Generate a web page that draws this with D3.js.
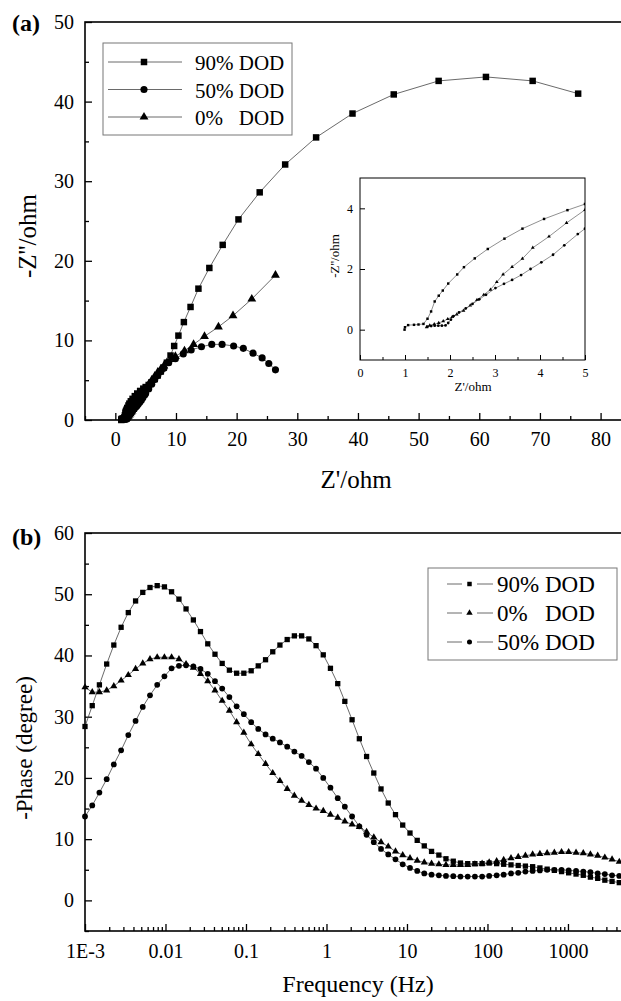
<!DOCTYPE html>
<html>
<head>
<meta charset="utf-8">
<script src="https://cdn.jsdelivr.net/npm/d3@7/dist/d3.min.js"></script>
<style>
  body { margin: 0; background: #fff; }
  svg { display: block; }
  text { font-family: "Liberation Serif", "DejaVu Serif", serif; fill: #000; }
</style>
</head>
<body>
<div id="chart"></div>
<script>
// ---- Nyquist data (a): Z' and -Z'' in ohm ----
const zRe90 = [0.99, 1.0, 1.07, 1.2, 1.3, 1.41, 1.5, 1.58, 1.66, 1.75, 1.84, 1.96, 2.16, 2.31, 2.55, 2.84, 3.21, 3.61, 4.09, 4.61,
    5.0, 5.5, 6.0, 6.5, 7.0, 7.5, 8.0, 8.5, 9.1, 9.7, 10.4, 11.3, 12.4, 13.7, 15.5, 17.7, 20.3, 23.8, 28.0, 33.1,
    39.1, 45.9, 53.3, 61.1, 68.8, 76.3];
const zIm90 = [0, 0.08, 0.15, 0.16, 0.17, 0.19, 0.36, 0.6, 0.93, 1.12, 1.29, 1.52, 1.82, 2.06, 2.35, 2.66, 3.0, 3.33, 3.65, 3.94,
    4.14, 4.4, 4.75, 5.15, 5.6, 6.1, 6.6, 7.2, 8.1, 9.3, 10.6, 12.3, 14.2, 16.5, 19.1, 22.0, 25.2, 28.6, 32.1, 35.5,
    38.5, 40.9, 42.6, 43.1, 42.6, 41.0];
const zRe50 = [1.5, 1.58, 1.66, 1.74, 1.82, 1.9, 1.96, 2.02, 2.08, 2.2, 2.35, 2.5, 2.65, 2.8, 3.01, 3.2, 3.38, 3.58, 3.79, 4.03,
    4.29, 4.54, 4.84, 5.0, 5.5, 6.0, 6.5, 7.0, 7.5, 8.0, 8.8, 9.9, 11.2, 12.5, 14.2, 15.9, 17.6, 19.5, 21.1, 22.7,
    24.2, 25.3, 26.4];
const zIm50 = [0.1, 0.12, 0.13, 0.13, 0.13, 0.14, 0.22, 0.33, 0.45, 0.57, 0.7, 0.85, 1.0, 1.15, 1.37, 1.51, 1.64, 1.8, 2.0, 2.22,
    2.47, 2.78, 3.15, 3.33, 3.9, 4.5, 5.1, 5.6, 6.1, 6.5, 7.2, 7.7, 8.3, 8.8, 9.2, 9.5, 9.5, 9.3, 9.0, 8.4,
    7.8, 7.1, 6.3];
const zRe0 = [1.48, 1.55, 1.65, 1.75, 1.85, 1.95, 2.05, 2.15, 2.3, 2.45, 2.6, 2.75, 2.9, 3.04, 3.18, 3.38, 3.61, 3.84, 4.2, 4.59,
    5.0, 5.5, 6.0, 6.5, 7.0, 7.5, 8.0, 8.5, 9.2, 9.9, 11.4, 12.9, 14.7, 17.0, 19.4, 22.5, 26.4];
const zIm0 = [0.08, 0.14, 0.18, 0.22, 0.28, 0.35, 0.42, 0.5, 0.63, 0.8, 0.98, 1.15, 1.32, 1.57, 1.82, 2.07, 2.34, 2.7, 3.07, 3.52,
    3.95, 4.5, 5.0, 5.5, 6.0, 6.4, 6.8, 7.2, 7.6, 8.0, 8.7, 9.5, 10.5, 11.7, 13.1, 15.2, 18.2];

// ---- Bode phase data (b) ----
const freqHz = [0.001, 0.00123, 0.00151, 0.00186, 0.00228, 0.00281, 0.00345, 0.00425, 0.00522, 0.00642,
    0.00789, 0.0097, 0.0119, 0.0147, 0.018, 0.0222, 0.0272, 0.0335, 0.0412, 0.0506,
    0.0622, 0.0765, 0.094, 0.116, 0.142, 0.175, 0.215, 0.264, 0.325, 0.399,
    0.491, 0.604, 0.742, 0.912, 1.12, 1.38, 1.69, 2.08, 2.56, 3.15,
    3.87, 4.76, 5.85, 7.2, 8.85, 10.9, 13.4, 16.4, 20.2, 24.9,
    30.5, 37.6, 46.2, 56.8, 69.8, 85.8, 105, 130, 159, 196,
    241, 296, 364, 448, 551, 677, 832, 1020, 1260, 1550,
    1900, 2340, 2870, 3530, 4340];
const phase90 = [28.4, 31.8, 35.2, 38.6, 41.7, 44.6, 47.0, 48.9, 50.3, 51.1,
    51.4, 51.2, 50.4, 49.2, 47.6, 45.8, 43.9, 41.9, 40.2, 38.7,
    37.6, 37.1, 37.1, 37.5, 38.3, 39.3, 40.6, 41.7, 42.6, 43.2,
    43.2, 42.7, 41.6, 40.1, 37.9, 35.4, 32.5, 29.5, 26.4, 23.5,
    20.8, 18.2, 15.9, 14.0, 12.3, 11.0, 9.8, 8.9, 8.0, 7.4,
    6.8, 6.4, 6.1, 6.0, 6.0, 6.0, 6.1, 6.0, 5.9, 5.8,
    5.7, 5.6, 5.5, 5.3, 5.1, 4.9, 4.7, 4.5, 4.3, 4.1,
    3.8, 3.6, 3.3, 3.1, 2.9];
const phase0 = [34.8, 34.0, 34.0, 34.3, 35.0, 35.9, 36.8, 37.8, 38.7, 39.4,
    39.7, 39.7, 39.7, 39.4, 38.6, 38.0, 37.0, 35.8, 34.3, 32.6,
    31.0, 29.1, 27.4, 25.5, 23.9, 22.3, 20.8, 19.5, 18.2, 17.1,
    16.3, 15.6, 15.0, 14.6, 14.0, 13.5, 12.9, 12.4, 12.0, 11.2,
    10.3, 9.5, 8.8, 8.0, 7.4, 6.9, 6.5, 6.2, 6.0, 5.9,
    5.8, 5.8, 5.8, 5.8, 5.9, 6.0, 6.2, 6.4, 6.6, 6.9,
    7.1, 7.3, 7.5, 7.6, 7.7, 7.8, 7.9, 7.9, 7.8, 7.7,
    7.5, 7.3, 7.0, 6.7, 6.3];
const phase50 = [13.7, 15.5, 17.6, 19.8, 22.2, 24.5, 27.0, 29.3, 31.6, 33.5,
    35.2, 36.6, 37.9, 38.3, 38.4, 38.2, 37.8, 37.0, 35.8, 34.6,
    33.2, 31.7, 30.4, 29.1, 28.0, 27.1, 26.4, 25.8, 25.1, 24.3,
    23.6, 22.6, 21.5, 20.0, 18.4, 16.7, 15.3, 13.7, 12.1, 10.7,
    9.5, 8.4, 7.5, 6.7, 5.9, 5.3, 4.8, 4.4, 4.2, 4.1,
    4.0, 3.95, 3.9, 3.9, 3.9, 3.9, 4.0, 4.1, 4.2, 4.4,
    4.5, 4.7, 4.8, 4.9, 5.0, 5.0, 5.0, 4.9, 4.8, 4.7,
    4.6, 4.4, 4.3, 4.1, 4.0];

// ---- labels / ticks ----
const legendA = ['90% DOD', '50% DOD', '0%   DOD'];
const legendB = ['90% DOD', '0%   DOD', '50% DOD'];
const zTicks = [0, 10, 20, 30, 40, 50, 60, 70, 80];
const zImTicks = [0, 10, 20, 30, 40, 50];
const insetXTicks = [0, 1, 2, 3, 4, 5];
const insetYTicks = [0, 2, 4];
const freqTicks = [0.001, 0.01, 0.1, 1, 10, 100, 1000];
const freqTickLabels = ['1E-3', '0.01', '0.1', '1', '10', '100', '1000'];
const phaseTicks = [0, 10, 20, 30, 40, 50, 60];

function makeChart() {
    const width = 621, height = 1001;
    const serif = '"Liberation Serif", "DejaVu Serif", serif';

    const svg = d3.select('#chart').append('svg')
        .attr('width', width)
        .attr('height', height);

    const sym = {
        square: d3.symbolSquare,
        circle: d3.symbolCircle,
        triangle: d3.symbolTriangle
    };

    function zip(xs, ys) {
        return xs.map((x, i) => [x, ys[i]]);
    }

    function drawSeries(g, pts, x, y, type, size, lineW) {
        g.append('path')
            .datum(pts)
            .attr('fill', 'none')
            .attr('stroke', '#444')
            .attr('stroke-width', lineW)
            .attr('d', d3.line().x(d => x(d[0])).y(d => y(d[1])));
        g.selectAll(null)
            .data(pts)
            .enter().append('path')
            .attr('d', d3.symbol().type(type).size(size))
            .attr('transform', d => 'translate(' + x(d[0]) + ',' + y(d[1]) + ')')
            .attr('fill', '#000');
    }

    function styleAxis(g, fs) {
        g.attr('font-family', serif).attr('font-size', fs);
        g.select('.domain').remove();
        g.selectAll('line').attr('stroke', '#000').attr('stroke-width', 1.3);
        g.selectAll('text').attr('fill', '#000');
    }

    // ================= panel (a) =================
    const xA = d3.scaleLinear().domain([-5, 83.2]).range([85, 620]);
    const yA = d3.scaleLinear().domain([0, 50]).range([420, 22]);

    const gA = svg.append('g');

    gA.append('g')
        .attr('transform', 'translate(0,420)')
        .call(d3.axisBottom(xA).tickValues(d3.range(-5, 83, 5).filter(v => v % 10 !== 0)).tickSize(-4).tickFormat(''))
        .call(styleAxis, 20);
    gA.append('g')
        .attr('transform', 'translate(0,420)')
        .call(d3.axisBottom(xA).tickValues(zTicks).tickSize(-7).tickPadding(12))
        .call(styleAxis, 20);
    gA.append('g')
        .attr('transform', 'translate(85,0)')
        .call(d3.axisLeft(yA).tickValues([5, 15, 25, 35, 45]).tickSize(-4).tickFormat(''))
        .call(styleAxis, 20);
    gA.append('g')
        .attr('transform', 'translate(85,0)')
        .call(d3.axisLeft(yA).tickValues(zImTicks).tickSize(-7).tickPadding(11))
        .call(styleAxis, 20);

    gA.append('rect')
        .attr('x', 85).attr('y', 22)
        .attr('width', 545).attr('height', 398)
        .attr('fill', 'none').attr('stroke', '#000').attr('stroke-width', 1.6);

    drawSeries(gA, zip(zRe90, zIm90), xA, yA, sym.square, 42, 0.8);
    drawSeries(gA, zip(zRe0, zIm0), xA, yA, sym.triangle, 34, 0.8);
    drawSeries(gA, zip(zRe50, zIm50), xA, yA, sym.circle, 40, 0.8);

    gA.append('text')
        .attr('x', 356).attr('y', 488)
        .attr('text-anchor', 'middle').attr('font-size', 25)
        .text("Z'/ohm");
    gA.append('text')
        .attr('transform', 'translate(36,236) rotate(-90)')
        .attr('text-anchor', 'middle').attr('font-size', 25)
        .text("-Z''/ohm");
    gA.append('text')
        .attr('x', 12).attr('y', 31)
        .attr('font-size', 24).attr('font-weight', 'bold')
        .text('(a)');

    // legend (a)
    const legA = gA.append('g');
    legA.append('rect')
        .attr('x', 103).attr('y', 43).attr('width', 189).attr('height', 92)
        .attr('fill', '#fff').attr('stroke', '#777').attr('stroke-width', 1);
    const legAsym = [sym.square, sym.circle, sym.triangle];
    const legAsize = [42, 40, 34];
    legendA.forEach((name, i) => {
        const cy = 62 + i * 27.5;
        legA.append('line')
            .attr('x1', 108).attr('x2', 182).attr('y1', cy).attr('y2', cy)
            .attr('stroke', '#444').attr('stroke-width', 0.8);
        legA.append('path')
            .attr('d', d3.symbol().type(legAsym[i]).size(legAsize[i]))
            .attr('transform', 'translate(144,' + cy + ')');
        legA.append('text')
            .attr('x', 195).attr('y', cy + 8)
            .attr('font-size', 21)
            .style('white-space', 'pre')
            .text(name);
    });

    // inset
    const xI = d3.scaleLinear().domain([0, 5]).range([360, 585]);
    const yI = d3.scaleLinear().domain([-1, 5]).range([360, 178]);
    const gI = gA.append('g');

    gI.append('rect')
        .attr('x', 360).attr('y', 178).attr('width', 225).attr('height', 182)
        .attr('fill', '#fff');
    svg.append('clipPath').attr('id', 'insetClip')
        .append('rect').attr('x', 360).attr('y', 178).attr('width', 225).attr('height', 182);

    gI.append('g')
        .attr('transform', 'translate(0,360)')
        .call(d3.axisBottom(xI).tickValues([0.5, 1.5, 2.5, 3.5, 4.5]).tickSize(-3).tickFormat(''))
        .call(styleAxis, 12);
    gI.append('g')
        .attr('transform', 'translate(0,360)')
        .call(d3.axisBottom(xI).tickValues(insetXTicks).tickSize(-5).tickPadding(8).tickFormat(d3.format('d')))
        .call(styleAxis, 12);
    gI.append('g')
        .attr('transform', 'translate(360,0)')
        .call(d3.axisLeft(yI).tickValues(insetYTicks).tickSize(-5).tickPadding(7).tickFormat(d3.format('d')))
        .call(styleAxis, 12);
    gI.selectAll('line').attr('stroke-width', 1);

    const gIdata = gI.append('g').attr('clip-path', 'url(#insetClip)');
    drawSeries(gIdata, zip(zRe90, zIm90), xI, yI, sym.square, 6, 0.6);
    drawSeries(gIdata, zip(zRe0, zIm0), xI, yI, sym.triangle, 6, 0.6);
    drawSeries(gIdata, zip(zRe50, zIm50), xI, yI, sym.circle, 6, 0.6);

    gI.append('rect')
        .attr('x', 360).attr('y', 178).attr('width', 225).attr('height', 182)
        .attr('fill', 'none').attr('stroke', '#000').attr('stroke-width', 1);

    gI.append('text')
        .attr('x', 473).attr('y', 391)
        .attr('text-anchor', 'middle').attr('font-size', 13)
        .text("Z'/ohm");
    gI.append('text')
        .attr('transform', 'translate(339,256) rotate(-90)')
        .attr('text-anchor', 'middle').attr('font-size', 13)
        .text("-Z''/ohm");

    // ================= panel (b) =================
    const xB = d3.scaleLog().domain([0.001, 4430]).range([85, 620]);
    const yB = d3.scaleLinear().domain([-5, 60]).range([931, 533]);
    const gB = svg.append('g');

    const minorF = xB.ticks().filter(f => Math.abs(Math.log10(f) - Math.round(Math.log10(f))) > 1e-6);
    gB.append('g')
        .attr('transform', 'translate(0,931)')
        .call(d3.axisBottom(xB).tickValues(minorF).tickSize(-4).tickFormat(''))
        .call(styleAxis, 20);
    gB.append('g')
        .attr('transform', 'translate(0,931)')
        .call(d3.axisBottom(xB).tickValues(freqTicks).tickSize(-7).tickPadding(13)
            .tickFormat((d, i) => freqTickLabels[i]))
        .call(styleAxis, 20);
    gB.append('g')
        .attr('transform', 'translate(85,0)')
        .call(d3.axisLeft(yB).tickValues([-5, 5, 15, 25, 35, 45, 55]).tickSize(-4).tickFormat(''))
        .call(styleAxis, 20);
    gB.append('g')
        .attr('transform', 'translate(85,0)')
        .call(d3.axisLeft(yB).tickValues(phaseTicks).tickSize(-7).tickPadding(11))
        .call(styleAxis, 20);

    gB.append('rect')
        .attr('x', 85).attr('y', 533)
        .attr('width', 545).attr('height', 398)
        .attr('fill', 'none').attr('stroke', '#000').attr('stroke-width', 1.6);

    drawSeries(gB, zip(freqHz, phase90), xB, yB, sym.square, 28, 0.8);
    drawSeries(gB, zip(freqHz, phase0), xB, yB, sym.triangle, 22, 0.8);
    drawSeries(gB, zip(freqHz, phase50), xB, yB, sym.circle, 26, 0.8);

    gB.append('text')
        .attr('x', 358).attr('y', 992)
        .attr('text-anchor', 'middle').attr('font-size', 24)
        .text('Frequency (Hz)');
    gB.append('text')
        .attr('transform', 'translate(32,748) rotate(-90)')
        .attr('text-anchor', 'middle').attr('font-size', 23)
        .text('-Phase (degree)');
    gB.append('text')
        .attr('x', 12).attr('y', 545)
        .attr('font-size', 24).attr('font-weight', 'bold')
        .text('(b)');

    // legend (b)
    const legB = gB.append('g');
    legB.append('rect')
        .attr('x', 428).attr('y', 568).attr('width', 189).attr('height', 92)
        .attr('fill', '#fff').attr('stroke', '#777').attr('stroke-width', 1);
    const legBsym = [sym.square, sym.triangle, sym.circle];
    const legBsize = [20, 18, 20];
    legendB.forEach((name, i) => {
        const cy = 584 + i * 29;
        legB.append('line')
            .attr('x1', 447).attr('x2', 462).attr('y1', cy).attr('y2', cy)
            .attr('stroke', '#444').attr('stroke-width', 0.8);
        legB.append('line')
            .attr('x1', 477).attr('x2', 493).attr('y1', cy).attr('y2', cy)
            .attr('stroke', '#444').attr('stroke-width', 0.8);
        legB.append('path')
            .attr('d', d3.symbol().type(legBsym[i]).size(legBsize[i]))
            .attr('transform', 'translate(469.5,' + cy + ')');
        legB.append('text')
            .attr('x', 497).attr('y', cy + 8)
            .attr('font-size', 23)
            .style('white-space', 'pre')
            .text(name);
    });
}

makeChart();
</script>
</body>
</html>
